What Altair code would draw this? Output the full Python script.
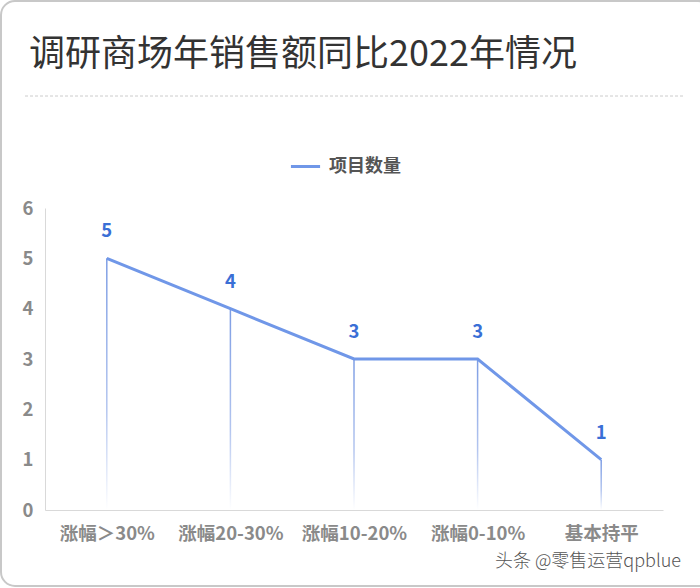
import altair as alt
import pandas as pd

categories = ["涨幅＞30%", "涨幅20-30%", "涨幅10-20%", "涨幅0-10%", "基本持平"]
values = [5, 4, 3, 3, 1]
series_name = "项目数量"
title_text = "调研商场年销售额同比2022年情况"
watermark = "头条 @零售运营qpblue"

df = pd.DataFrame({"cat": categories, "val": values, "series": [series_name] * len(values)})

FONT = "Noto Sans CJK SC"
W, H = 618, 302
PL, PT = 45, 208

xenc = alt.X("cat:N", sort=categories, scale=alt.Scale(type="point", padding=0.5),
             axis=alt.Axis(title=None, labelAngle=0, labelFontSize=18.5, labelFontWeight="bold",
                           labelColor="#8a8a8a", labelFont=FONT, domainColor="#d9d9d9",
                           ticks=False, labelPadding=14, grid=False))
yenc = alt.Y("val:Q", scale=alt.Scale(domain=[0, 6], nice=False),
             axis=alt.Axis(title=None, values=[0, 1, 2, 3, 4, 5, 6], labelFontSize=18.5,
                           labelFontWeight="bold", labelColor="#8a8a8a", labelFont=FONT,
                           domainColor="#d9d9d9", ticks=False, labelPadding=12, grid=False))

base = alt.Chart(df)

drops = base.mark_bar(size=1.5, color=alt.Gradient(
    gradient="linear", x1=0, y1=0, x2=0, y2=1,
    stops=[alt.GradientStop(offset=0, color="#7d9de4"),
           alt.GradientStop(offset=0.6, color="#b3c5ef"),
           alt.GradientStop(offset=1, color="#ffffff")])).encode(x=xenc, y=yenc)

line = base.mark_line(strokeWidth=3).encode(
    x=xenc, y=yenc,
    color=alt.Color("series:N", scale=alt.Scale(domain=[series_name], range=["#7097e8"]),
                    legend=alt.Legend(title=None, orient="none", legendX=244, legendY=-58,
                                      symbolType="stroke", symbolStrokeWidth=3, symbolSize=850,
                                      labelFontSize=18, labelFontWeight="bold", labelColor="#555555",
                                      labelFont=FONT, padding=0, labelOffset=7)))

labels = base.mark_text(dy=-27, fontSize=18.5, fontWeight="bold", color="#3a6fd6", font=FONT).encode(
    x=xenc, y=yenc, text="val:Q")

deco_df = pd.DataFrame({"k": [0]})
card = alt.Chart(deco_df).mark_rect(fill=None, stroke="#c8c8c8", strokeWidth=2, cornerRadius=14).encode(
    x=alt.value(-PL + 1), x2=alt.value(700 - PL + 12), y=alt.value(-PT + 1), y2=alt.value(588 - PT - 2))
sep = alt.Chart(deco_df).mark_rule(stroke="#cccccc", strokeDash=[3, 2], strokeWidth=1).encode(
    x=alt.value(25 - PL), x2=alt.value(683 - PL), y=alt.value(96 - PT))
title = alt.Chart(deco_df).mark_text(text=title_text, fontSize=36, font=FONT, color="#333333",
                                     align="left", baseline="middle").encode(
    x=alt.value(29 - PL), y=alt.value(55 - PT))
wm = alt.Chart(deco_df).mark_text(text=watermark, fontSize=18, font=FONT, color="#555555",
                                  align="right", baseline="middle", fontWeight=300).encode(
    x=alt.value(681 - PL), y=alt.value(562 - PT))

chart = alt.layer(card, sep, title, drops, line, labels, wm).properties(
    width=W, height=H, autosize=alt.AutoSizeParams(type="none"),
    padding={"left": PL, "top": PT, "right": 700 - PL - W, "bottom": 588 - PT - H},
    background="white"
).configure_view(stroke=None)

chart.save("out.html", embed_options={"renderer": "svg", "actions": False})
